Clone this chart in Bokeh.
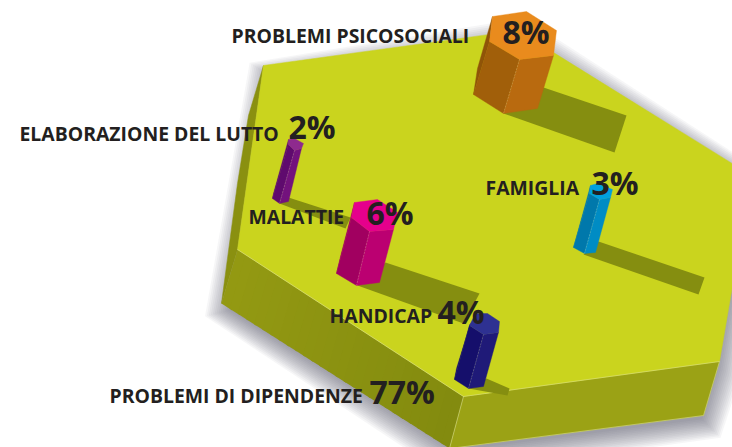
from bokeh.plotting import figure
from bokeh.embed import file_html
from bokeh.resources import INLINE
from bokeh.core.properties import value

# ---- data ----
categories = ["PROBLEMI PSICOSOCIALI", "ELABORAZIONE DEL LUTTO", "FAMIGLIA",
              "MALATTIE", "HANDICAP", "PROBLEMI DI DIPENDENZE"]
percent = [8, 2, 3, 6, 4, 77]

# ---- label layout ----
label_x = [231, 19, 485, 248, 329, 109]
label_y = [35, 133, 187, 216, 315, 395]
pct_x = [502, 288, 591, 366, 437, 369]
pct_y = [31, 126, 182, 212, 311, 391]
LABEL_SIZE = "19.4px"
PCT_SIZE = "32px"

# ---- plinth geometry (picture pixels) ----
TOP = [(263, 65), (518, 30), (553, 52), (751, 175), (719, 361), (463, 396), (237, 249)]
LEFT_SLIVER = [(263, 65), (248, 115), (237, 183), (221, 303), (237, 249)]
FRONT_LEFT = [(237, 249), (463, 396), (449, 448), (221, 303)]
FRONT_RIGHT = [(463, 396), (719, 361), (703, 415), (449, 448)]
OUTLINE = [(263, 65), (518, 30), (553, 52), (751, 175), (719, 361), (703, 415), (449, 448), (221, 303)]

# ---- prisms: hex top, left face, right face, back sliver, cast shadow ----
PRISMS = [
    dict(top=[(492, 16), (526, 11), (556, 30), (553, 55), (519, 59), (489, 41)],
         left=[(489, 41), (519, 59), (503, 113), (473, 94)],
         right=[(519, 59), (553, 55), (537, 108), (503, 113)],
         back=[(492, 16), (489, 41), (473, 94), (477, 68)],
         shadow=[(543, 87), (626, 115), (614, 152), (503, 113)],
         colors=("#e98b1d", "#a15f0a", "#b96a0f", "#8f5408")),
    dict(top=[(288, 139), (294, 138), (303, 143), (301, 148), (294, 150), (288, 144)],
         left=[(288, 144), (294, 150), (279, 203), (272, 198)],
         right=[(294, 150), (301, 148), (288, 201), (279, 203)],
         back=[(288, 139), (288, 144), (272, 198), (273, 193)],
         shadow=[(288, 197), (350, 217), (345, 228), (279, 203)],
         colors=("#8e2a8e", "#5f0a6e", "#73127d", "#5f0a6e")),
    dict(top=[(590, 185), (597, 183), (612, 189), (610, 197), (599, 199), (589, 193)],
         left=[(589, 193), (599, 199), (584, 253), (573, 247)],
         right=[(599, 199), (610, 197), (595, 252), (584, 253)],
         back=[(590, 185), (589, 193), (573, 247), (575, 240)],
         shadow=[(598, 241), (704, 277), (698, 294), (583, 254)],
         colors=("#00a0df", "#0078ab", "#008cc4", "#0078ab")),
    dict(top=[(354, 202), (377, 199), (397, 212), (393, 229), (369, 231), (351, 217)],
         left=[(351, 217), (369, 231), (356, 285), (336, 273)],
         right=[(369, 231), (393, 229), (379, 282), (356, 285)],
         back=[(354, 202), (351, 217), (336, 273), (340, 256)],
         shadow=[(385, 262), (479, 293), (463, 323), (357, 285)],
         colors=("#e5008c", "#a10060", "#bb0071", "#a10060")),
    dict(top=[(470, 323), (475, 313), (487, 313), (499, 321), (498, 332), (483, 334), (469, 325)],
         left=[(469, 325), (483, 334), (468, 388), (454, 379)],
         right=[(483, 334), (498, 332), (483, 386), (468, 388)],
         back=[(470, 323), (469, 325), (454, 379), (456, 368)],
         shadow=[(486, 378), (509, 388), (507, 395), (468, 388)],
         colors=("#2e3192", "#150f6b", "#1f1a78", "#150f6b")),
]

C_TOP = "#cad41e"
C_SLIVER = "#8a9010"
C_FL_A = (148, 154, 19)
C_FL_B = (131, 139, 15)
C_FR = "#9ba215"
C_SHADOW = "#858e10"
C_TEXT = "#231f20"
FL_STRIPS = 28


def xs(poly):
    return [q[0] for q in poly]


def ys(poly):
    return [q[1] for q in poly]


def grow(poly, d, dx, dy):
    cx = sum(xs(poly)) / len(poly)
    cy = sum(ys(poly)) / len(poly)
    out = []
    for x, y in poly:
        vx, vy = x - cx, y - cy
        n = (vx * vx + vy * vy) ** 0.5
        out.append((x + vx / n * d + dx, y + vy / n * d + dy))
    return out


def mix(a, b, t):
    return (a[0] + (b[0] - a[0]) * t, a[1] + (b[1] - a[1]) * t)


p = figure(width=732, height=447, x_range=(0, 732), y_range=(447, 0),
           toolbar_location=None, output_backend="svg", min_border=0,
           background_fill_color="white", border_fill_color="white")
p.axis.visible = False
p.grid.visible = False
p.outline_line_color = None

# soft drop shadow of the plinth
for d in range(20, -8, -2):
    g = grow(OUTLINE, d, 3, 8)
    p.patch(xs(g), ys(g), fill_color="#4a4a62", fill_alpha=0.05, line_color=None)

p.patch(xs(LEFT_SLIVER), ys(LEFT_SLIVER), fill_color=C_SLIVER, line_color=C_SLIVER, line_width=0.5)

# left front wall: stepped shading from light to dark
tl, tr, br, bl = FRONT_LEFT
for i in range(FL_STRIPS):
    t0, t1 = i / FL_STRIPS, (i + 1) / FL_STRIPS
    s = [mix(tl, tr, t0), mix(tl, tr, min(t1 + 0.01, 1)), mix(bl, br, min(t1 + 0.01, 1)), mix(bl, br, t0)]
    c = tuple(int(C_FL_A[k] + (C_FL_B[k] - C_FL_A[k]) * (t0 + t1) / 2) for k in range(3))
    col = "#%02x%02x%02x" % c
    p.patch(xs(s), ys(s), fill_color=col, line_color=None)

for poly, col in [(FRONT_RIGHT, C_FR), (TOP, C_TOP)]:
    p.patch(xs(poly), ys(poly), fill_color=col, line_color=col, line_width=0.5)

# pale edges of the plinth
p.multi_line([[237, 463, 719], [463, 449], [449, 703], [719, 703]],
             [[249, 396, 361], [396, 448], [448, 415], [361, 415]],
             line_color="#e6ea9a", line_width=0.7, line_alpha=0.7)

for pr in PRISMS:
    p.patch(xs(pr["shadow"]), ys(pr["shadow"]), fill_color=C_SHADOW, line_color=None)
for pr in PRISMS:
    ctop, cl, cr, cb = pr["colors"]
    for poly, col in [(pr["back"], cb), (pr["left"], cl), (pr["right"], cr), (pr["top"], ctop)]:
        p.patch(xs(poly), ys(poly), fill_color=col, line_color=col, line_width=0.4)
    a, b = pr["left"][1], pr["left"][2]
    p.line([a[0], b[0]], [a[1], b[1]], line_color="white", line_alpha=0.3, line_width=0.6, line_dash="2 1")

p.text(label_x, label_y, text=categories, text_font=value("Open Sans"), text_font_style="bold",
       text_font_size=LABEL_SIZE, text_color=C_TEXT, text_baseline="alphabetic", text_align="left")
p.text(pct_x, pct_y, text=[f"{v}%" for v in percent], text_font=value("Open Sans"), text_font_style="bold",
       text_font_size=PCT_SIZE, text_color=C_TEXT, text_baseline="alphabetic", text_align="left")

open("out.html", "w").write(file_html(p, INLINE))
